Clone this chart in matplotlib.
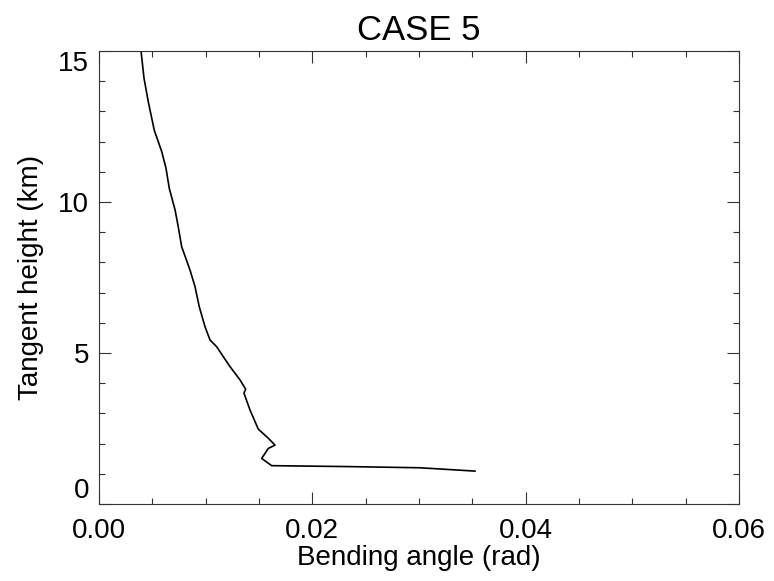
import numpy as np
import matplotlib
matplotlib.use("Agg")
import matplotlib.pyplot as plt
from matplotlib.ticker import MultipleLocator

plt.rcParams['font.family'] = ['Liberation Sans', 'DejaVu Sans']

# bending angle (rad) vs tangent height (km)
bend = [0.00394, 0.00422, 0.00462, 0.00518, 0.00588, 0.00628, 0.00659, 0.00713,
        0.00743, 0.00775, 0.00853, 0.00900, 0.00940, 0.00994, 0.01041, 0.01103,
        0.01165, 0.01228, 0.01322, 0.01375, 0.01359, 0.01416, 0.01493, 0.01587,
        0.01650, 0.01587, 0.01525, 0.01556, 0.01619, 0.02322, 0.03009, 0.03525]
height = [15.0, 14.10, 13.32, 12.38, 11.67, 11.12, 10.45, 9.74,
          9.18, 8.52, 7.75, 7.20, 6.53, 5.87, 5.43, 5.21,
          4.88, 4.55, 4.11, 3.80, 3.67, 3.11, 2.48, 2.18,
          1.95, 1.84, 1.51, 1.43, 1.27, 1.24, 1.20, 1.09]

fig = plt.figure(figsize=(7.74, 5.81), dpi=100)
ax = fig.add_axes([0.1279, 0.1325, 0.8269, 0.7797])

ax.plot(bend, height, color='black', linewidth=1.2)

ax.set_xlim(0, 0.06)
ax.set_ylim(0, 15)
ax.xaxis.set_major_locator(MultipleLocator(0.02))
ax.xaxis.set_minor_locator(MultipleLocator(0.005))
ax.yaxis.set_major_locator(MultipleLocator(5))
ax.yaxis.set_minor_locator(MultipleLocator(1))
ax.xaxis.set_major_formatter(plt.FormatStrFormatter('%.2f'))

ax.tick_params(which='both', direction='in', top=True, right=True,
               labelsize=20, width=0.8, color='#333333')
ax.tick_params(which='major', length=8.5)
ax.tick_params(which='minor', length=4.3)
ax.tick_params(axis='x', pad=10)
ax.tick_params(axis='y', pad=7)

for s in ax.spines.values():
    s.set_linewidth(0.8)
    s.set_color('#333333')

ax.set_title("CASE 5", fontsize=25, pad=8)
ax.set_xlabel("Bending angle (rad)", fontsize=20, labelpad=1)
ax.set_ylabel("Tangent height (km)", fontsize=20, labelpad=10)

# IDL-style: end labels on the y axis kept inside the axis range
fig.canvas.draw()
for t in ax.get_yticklabels():
    if t.get_text() == '0':
        t.set_va('bottom')
    elif t.get_text() == '15':
        t.set_va('top')

fig.savefig("out.png", dpi=100)
